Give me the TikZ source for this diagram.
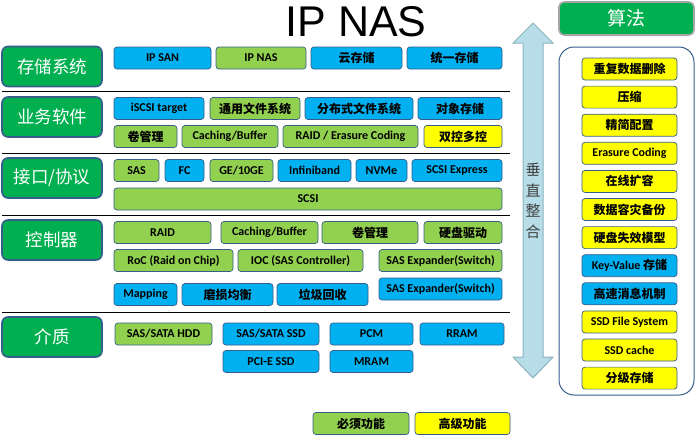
\documentclass[tikz,border=0pt]{standalone}
\usepackage{fontspec}
\setmainfont{Carlito}
\newfontfamily\cjk{Noto Sans CJK SC}
\newfontfamily\titlefont{Liberation Sans}
\newcommand{\cn}[1]{{\cjk #1}}

\definecolor{cellblue}{RGB}{0,176,240}
\definecolor{cellgreen}{RGB}{146,208,80}
\definecolor{cellyellow}{RGB}{255,255,0}
\definecolor{labelgreen}{RGB}{0,176,80}
\definecolor{boxline}{RGB}{56,93,138}
\definecolor{arrowfill}{RGB}{183,222,232}
\definecolor{arrowline}{RGB}{140,178,190}

\tikzset{
  cell/.style={draw=boxline, line width=0.7pt, rounded corners=3pt,
    minimum height=22pt, inner sep=0pt, font=\bfseries\fontsize{12}{14}\selectfont},
  bluecell/.style={cell, fill=cellblue},
  greencell/.style={cell, fill=cellgreen},
  yellowcell/.style={cell, fill=cellyellow},
  layer/.style={draw=boxline, line width=1.6pt, fill=labelgreen, rounded corners=6pt,
    minimum width=100pt, minimum height=40pt, text=white,
    font=\cjk\fontsize{17.5}{20}\selectfont},
  sepline/.style={line width=1pt, black},
}

\begin{document}
\begin{tikzpicture}[x=1pt, y=-1pt]
    \useasboundingbox (0,0) rectangle (700,434);

    \node[anchor=base, font=\titlefont\fontsize{43}{48}\selectfont] (title) at (356,36) {IP NAS};

    % layer labels
    \node[layer] (storage) at (52,66.5) {存储系统};
    \node[layer] (software) at (52,117) {业务软件};
    \node[layer] (iface) at (52,178) {接口/协议};
    \node[layer] (ctrl) at (52,240) {控制器};
    \node[layer] (media) at (52,337) {介质};

    \draw[sepline] (2,91) -- (510,91);
    \draw[sepline] (2,153) -- (510,153);
    \draw[sepline] (2,215) -- (510,215);
    \draw[sepline] (2,312) -- (510,312);

    % storage systems
    \node[bluecell, minimum width=97pt] (ipsan) at (162.5,58) {IP SAN};
    \node[greencell, minimum width=90pt] (ipnas) at (261,58) {IP NAS};
    \node[bluecell, minimum width=91pt] (cloud) at (356.5,58) {\cn{云存储}};
    \node[bluecell, minimum width=95pt] (unified) at (454.5,58) {\cn{统一存储}};

    % software
    \node[bluecell, minimum width=90pt] (iscsi) at (159,108.5) {iSCSI target};
    \node[greencell, minimum width=90pt] (genfs) at (255,108.5) {\cn{通用文件系统}};
    \node[bluecell, minimum width=108pt] (distfs) at (359,108.5) {\cn{分布式文件系统}};
    \node[bluecell, minimum width=84pt] (objstore) at (460,108.5) {\cn{对象存储}};
    \node[greencell, minimum width=63pt] (volmgr) at (145.5,136.5) {\cn{卷管理}};
    \node[greencell, minimum width=96pt] (cachebuf) at (230,136.5) {Caching/Buffer};
    \node[greencell, minimum width=135pt] (raidec) at (350.5,136.5) {RAID / Erasure Coding};
    \node[yellowcell, minimum width=78pt] (dualctl) at (463,136.5) {\cn{双控多控}};

    % interfaces
    \node[greencell, minimum width=45pt] (sas) at (136.5,170.5) {SAS};
    \node[bluecell, minimum width=39pt] (fc) at (184.5,170.5) {FC};
    \node[greencell, minimum width=63pt] (ge) at (241.5,170.5) {GE/10GE};
    \node[bluecell, minimum width=73pt] (ib) at (314.5,170.5) {Infiniband};
    \node[bluecell, minimum width=51pt] (nvme) at (381.5,170.5) {NVMe};
    \node[bluecell, minimum width=90pt] (scsiex) at (457,170.5) {SCSI Express};
    \node[greencell, minimum width=388pt] (scsi) at (308,199) {SCSI};

    % controller
    \node[greencell, minimum width=97pt] (raid) at (162.5,232.5) {RAID};
    \node[greencell, minimum width=97pt] (ctlcache) at (269.5,232.5) {Caching/Buffer};
    \node[greencell, minimum width=96pt] (ctlvol) at (370,232.5) {\cn{卷管理}};
    \node[greencell, minimum width=78pt] (hdddrv) at (463,232.5) {\cn{硬盘驱动}};
    \node[greencell, minimum width=119pt] (roc) at (173.5,260.5) {RoC (Raid on Chip)};
    \node[greencell, minimum width=125pt] (ioc) at (300.5,260.5) {IOC (SAS Controller)};
    \node[greencell, minimum width=123pt] (expgreen) at (440.5,260.5) {SAS Expander(Switch)};
    \node[bluecell, minimum width=63pt] (mapping) at (145.5,294.5) {Mapping};
    \node[bluecell, minimum width=91pt] (wear) at (227.5,294.5) {\cn{磨损均衡}};
    \node[bluecell, minimum width=91pt] (gc) at (322.5,294.5) {\cn{垃圾回收}};
    \node[bluecell, minimum width=123pt] (expblue) at (440.5,289) {SAS Expander(Switch)};

    % media
    \node[greencell, minimum width=97pt] (hdd) at (163.5,334) {SAS/SATA HDD};
    \node[bluecell, minimum width=96pt] (satassd) at (271,334) {SAS/SATA SSD};
    \node[bluecell, minimum width=83pt] (pcm) at (371.5,334) {PCM};
    \node[bluecell, minimum width=84pt] (rram) at (462,334) {RRAM};
    \node[bluecell, minimum width=96pt] (pcie) at (271,361.5) {PCI-E SSD};
    \node[bluecell, minimum width=83pt] (mram) at (371.5,361.5) {MRAM};

    % legend
    \node[greencell, minimum width=96pt] (must) at (361,423.5) {\cn{必须功能}};
    \node[yellowcell, minimum width=95pt] (adv) at (462.5,423.5) {\cn{高级功能}};

    % vertical integration arrow
    \draw[fill=arrowfill, draw=arrowline, line width=1pt] (533,23) -- (553,43) -- (543,43) -- (543,357)
        -- (553,357) -- (533,378) -- (513,357) -- (523,357) -- (523,43) -- (513,43) -- cycle;
    \node[align=center, text=black!75, font=\cjk\fontsize{15}{20.5}\selectfont] (vint) at (533,201) {垂\\直\\整\\合};

    % algorithms
    \node[draw=black!35, line width=1.6pt, fill=labelgreen, rounded corners=5pt, minimum width=135pt,
        minimum height=33pt, text=white, font=\cjk\fontsize{19}{22}\selectfont] (alg) at (626.5,18.5) {算法};
    \node[draw=boxline, line width=1pt, rounded corners=15pt, minimum width=135pt,
        minimum height=348pt] (algpanel) at (626.5,221) {};
    \node[yellowcell, minimum width=95pt] (dedup) at (629.5,69) {\cn{重复数据删除}};
    \node[yellowcell, minimum width=95pt] (compress) at (629.5,97.1) {\cn{压缩}};
    \node[yellowcell, minimum width=95pt] (thin) at (629.5,125.2) {\cn{精简配置}};
    \node[yellowcell, minimum width=95pt] (ec) at (629.5,153.3) {Erasure Coding};
    \node[yellowcell, minimum width=95pt] (expand) at (629.5,181.4) {\cn{在线扩容}};
    \node[yellowcell, minimum width=95pt] (backup) at (629.5,209.5) {\cn{数据容灾备份}};
    \node[yellowcell, minimum width=95pt] (fail) at (629.5,237.6) {\cn{硬盘失效模型}};
    \node[bluecell, minimum width=95pt] (kv) at (629.5,265.7) {Key-Value \cn{存储}};
    \node[bluecell, minimum width=95pt] (msg) at (629.5,293.8) {\cn{高速消息机制}};
    \node[yellowcell, minimum width=95pt] (ssdfs) at (629.5,321.9) {SSD File System};
    \node[yellowcell, minimum width=95pt] (ssdcache) at (629.5,350) {SSD cache};
    \node[yellowcell, minimum width=95pt] (tier) at (629.5,378.1) {\cn{分级存储}};
\end{tikzpicture}
\end{document}
